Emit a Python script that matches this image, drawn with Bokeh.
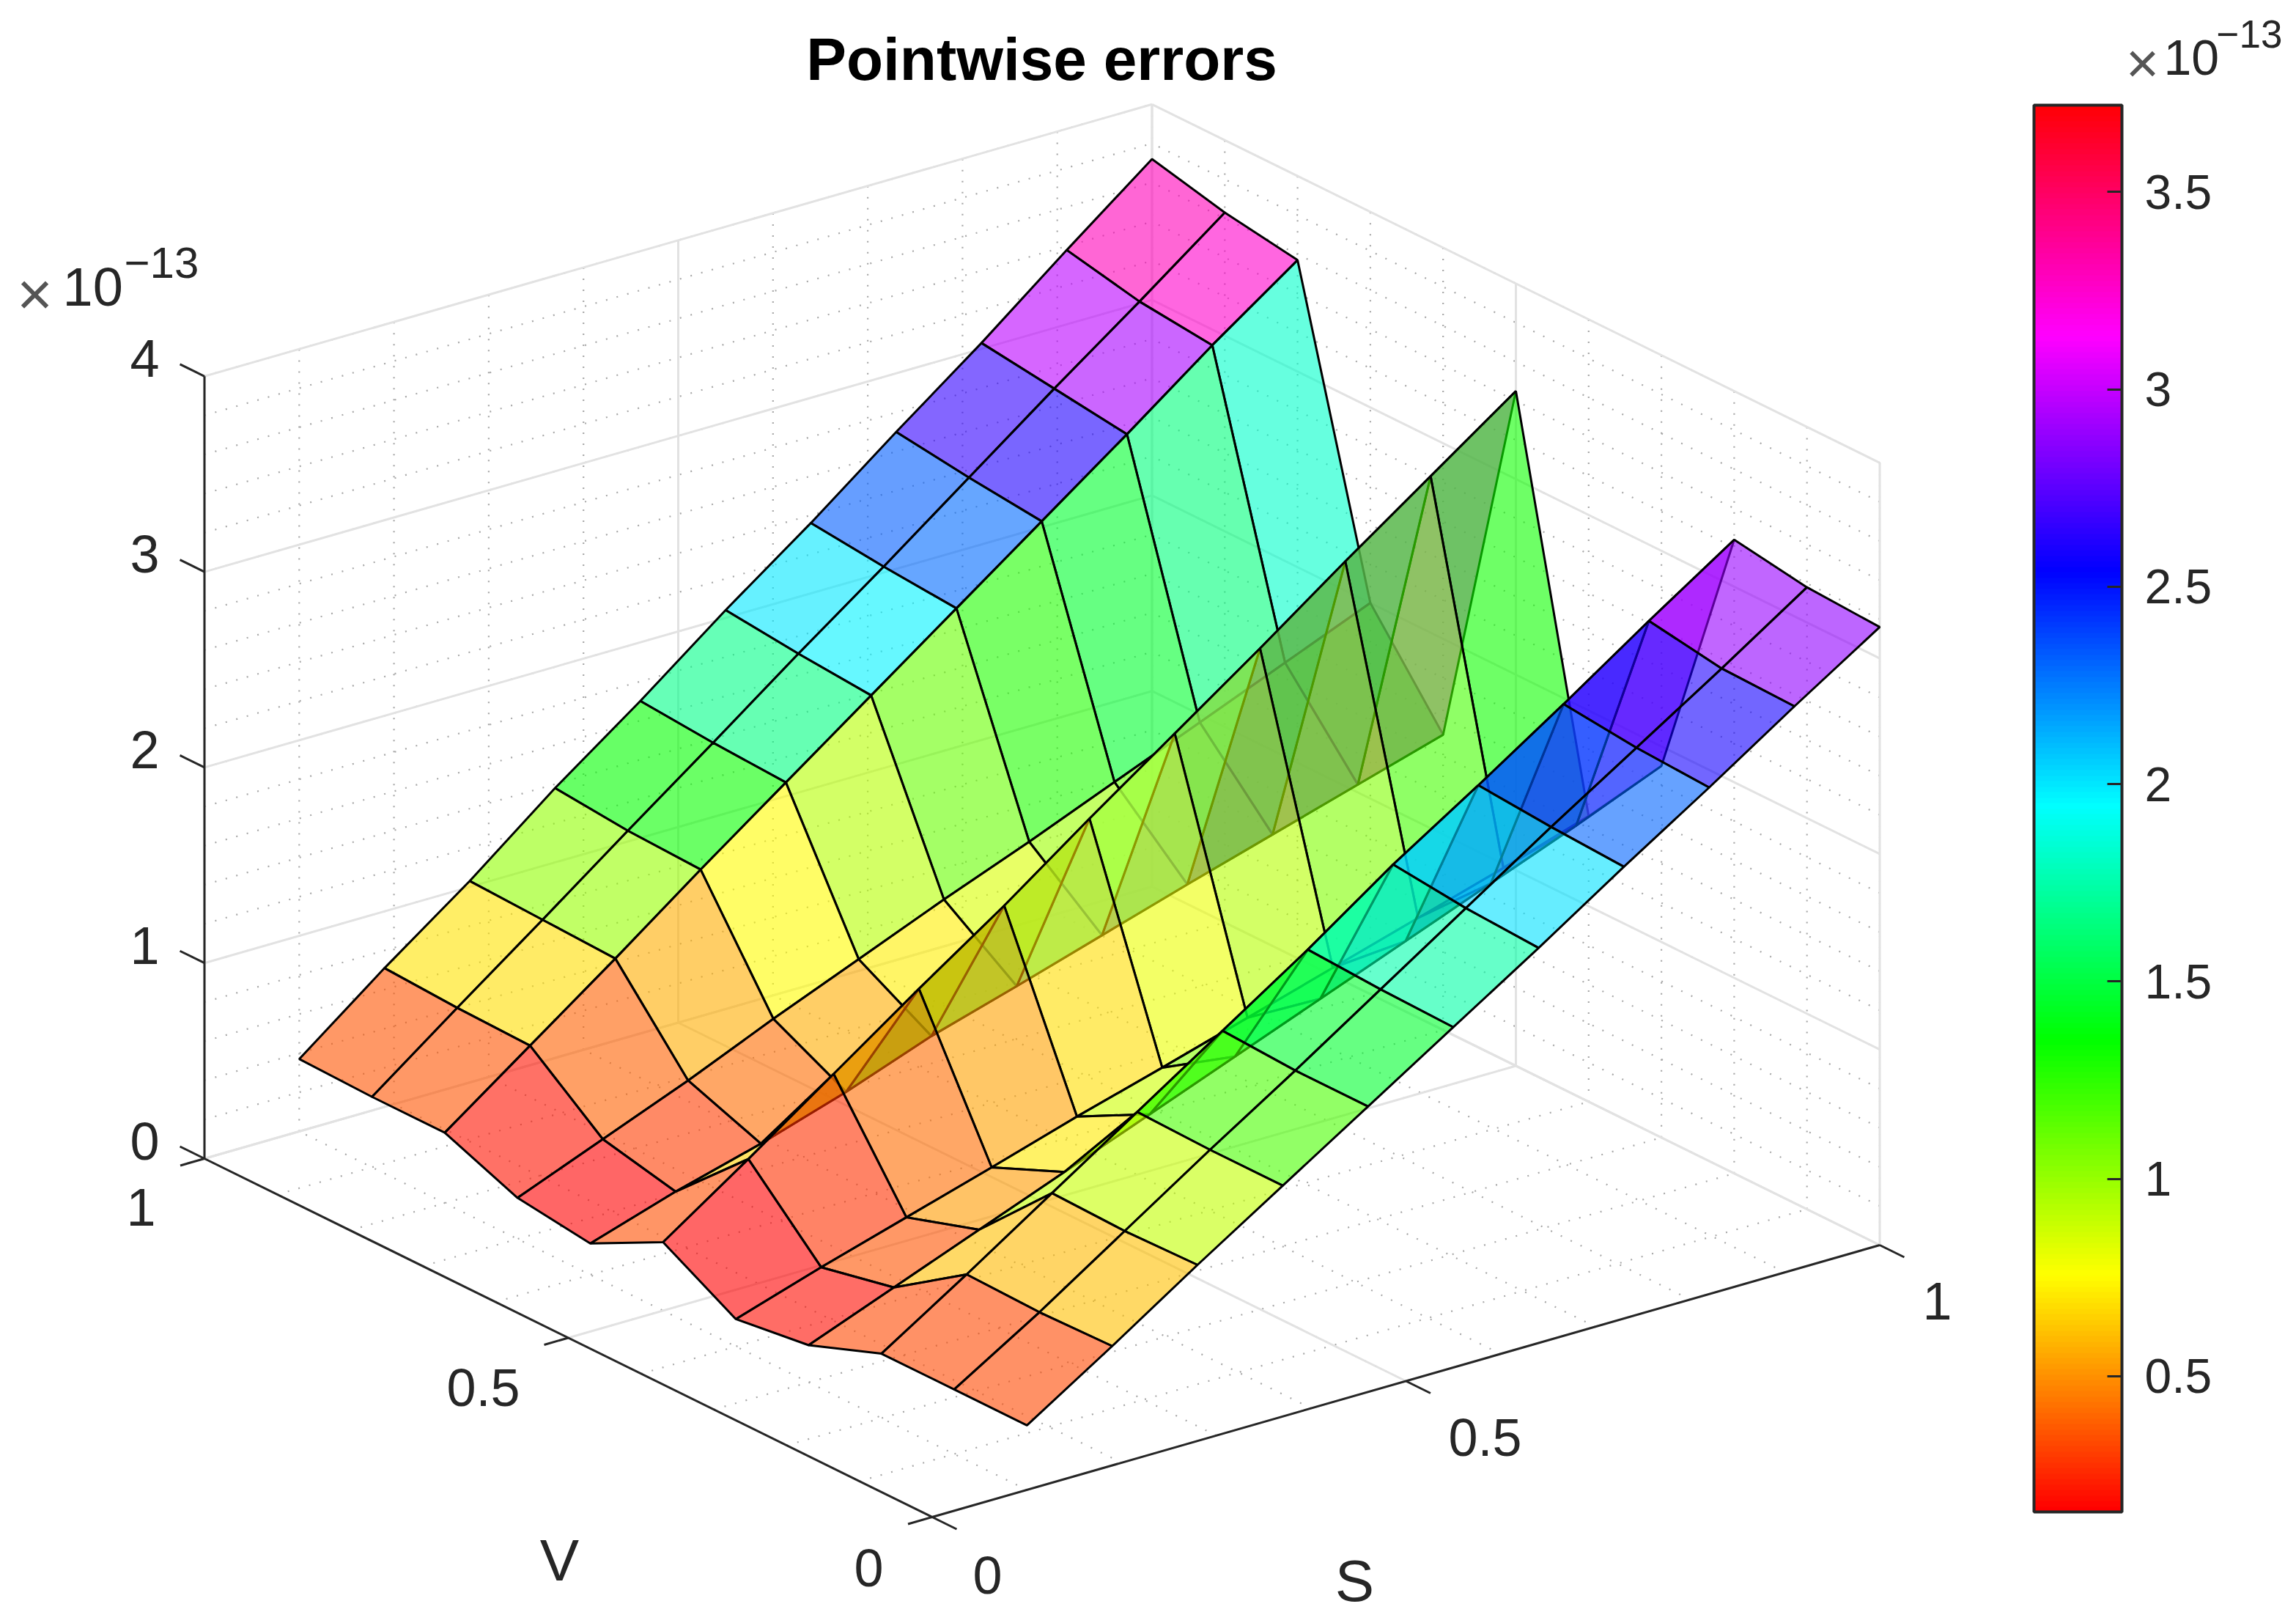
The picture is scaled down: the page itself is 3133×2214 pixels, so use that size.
import colorsys
from bokeh.plotting import figure
from bokeh.embed import file_html
from bokeh.resources import INLINE
from bokeh.core.properties import value
from bokeh.models import Range1d, ColumnDataSource, LinearColorMapper, ColorBar, FixedTicker

# ---- data (values in units of 1e-13) ----
S_values = [0.10, 0.19, 0.28, 0.37, 0.46, 0.55, 0.64, 0.73, 0.82, 0.91, 1.00]
V_values = [0.0, 0.1, 0.2, 0.3, 0.4, 0.5, 0.6, 0.7, 0.8, 0.9, 1.0]
z_v00 = [0.33, 0.61, 0.90, 1.18, 1.46, 1.74, 2.02, 2.31, 2.59, 2.88, 3.16]
z_v01 = [0.33, 0.60, 0.89, 1.18, 1.46, 1.75, 2.04, 2.33, 2.61, 2.89, 3.18]
z_v02 = [0.33, 0.61, 0.90, 1.19, 1.48, 1.77, 2.08, 2.36, 2.65, 2.95, 3.24]
z_v03 = [0.19, 0.36, 0.53, 0.70, 0.87, 1.04, 1.21, 1.38, 1.55, 1.72, 1.90]
z_v04 = [0.14, 0.28, 0.41, 0.54, 0.675, 0.80, 0.93, 1.06, 1.19, 1.32, 1.46]
z_v05 = [0.35, 0.65, 0.96, 1.27, 1.57, 1.89, 2.20, 2.51, 2.83, 3.14, 3.45]
z_v06 = [0.16, 0.30, 0.42, 0.56, 0.72, 0.85, 0.985, 1.12, 1.25, 1.38, 1.51]
z_v07 = [0.21, 0.385, 0.56, 0.75, 0.93, 1.11, 1.28, 1.46, 1.64, 1.82, 2.00]
z_v08 = [0.36, 0.68, 1.00, 1.33, 1.65, 1.97, 2.29, 2.61, 2.93, 3.26, 3.57]
z_v09 = [0.36, 0.69, 1.015, 1.345, 1.67, 2.00, 2.32, 2.65, 2.98, 3.30, 3.63]
z_v10 = [0.37, 0.71, 1.03, 1.38, 1.70, 2.04, 2.36, 2.70, 3.03, 3.38, 3.72]
Z_columns = [z_v00, z_v01, z_v02, z_v03, z_v04, z_v05, z_v06, z_v07, z_v08, z_v09, z_v10]

S_major = [0, 0.5, 1]
V_major = [0, 0.5, 1]
Z_major = [0, 1, 2, 3, 4]
S_labels = ["0", "0.5", "1"]
V_labels = ["0", "0.5", "1"]
Z_labels = ["0", "1", "2", "3", "4"]
minor_sv = [k / 10 for k in range(0, 11)]
minor_z = [k / 5 for k in range(0, 21)]
cbar_ticks = [0.5, 1, 1.5, 2, 2.5, 3, 3.5]
cbar_labels = ["0.5", "1", "1.5", "2", "2.5", "3", "3.5"]
clim = (0.156, 3.72)

# ---- orthographic view of the 3-D box ----
ORIGIN = (1271.5, 2069.0)
S_VEC = (1293.0, -371.0)
V_VEC = (-993.0, -489.0)
Z_UNIT = 266.8


def proj(s, v, z=0.0):
    return (ORIGIN[0] + s * S_VEC[0] + v * V_VEC[0],
            ORIGIN[1] + s * S_VEC[1] + v * V_VEC[1] - z * Z_UNIT)


def seg(a, b):
    pa, pb = proj(*a), proj(*b)
    return [pa[0], pb[0]], [pa[1], pb[1]]


FONT = value("Liberation Sans")
INK = "#262626"

p = figure(width=3117, height=2206, x_range=Range1d(0, 3117), y_range=Range1d(2206, 0),
           output_backend="svg", toolbar_location=None, min_border=0)
p.axis.visible = False
p.grid.visible = False
p.outline_line_color = None

# minor grid (dotted)
mx, my = [], []
for t in minor_sv:
    for a, b in [((t, 1, 0), (t, 1, 4)), ((1, t, 0), (1, t, 4)), ((t, 0, 0), (t, 1, 0)), ((0, t, 0), (1, t, 0))]:
        x, y = seg(a, b)
        mx.append(x)
        my.append(y)
for t in minor_z:
    for a, b in [((0, 1, t), (1, 1, t)), ((1, 0, t), (1, 1, t))]:
        x, y = seg(a, b)
        mx.append(x)
        my.append(y)
p.multi_line(mx, my, line_color="#a8a8a8", line_width=2.2, line_dash="2 13")

# major grid
gx, gy = [], []
for t in S_major:
    for a, b in [((t, 1, 0), (t, 1, 4)), ((t, 0, 0), (t, 1, 0))]:
        x, y = seg(a, b)
        gx.append(x)
        gy.append(y)
for t in V_major:
    for a, b in [((1, t, 0), (1, t, 4)), ((0, t, 0), (1, t, 0))]:
        x, y = seg(a, b)
        gx.append(x)
        gy.append(y)
for t in Z_major:
    for a, b in [((0, 1, t), (1, 1, t)), ((1, 0, t), (1, 1, t))]:
        x, y = seg(a, b)
        gx.append(x)
        gy.append(y)
p.multi_line(gx, gy, line_color="#e2e2e2", line_width=3)

# axis lines and ticks
ax, ay = [], []
for a, b in [((0, 1, 0), (0, 1, 4)), ((0, 0, 0), (0, 1, 0)), ((0, 0, 0), (1, 0, 0))]:
    x, y = seg(a, b)
    ax.append(x)
    ay.append(y)
for t in Z_major:
    x, y = seg((0, 1, t), (0, 1.0337, t))
    ax.append(x)
    ay.append(y)
for t in V_major:
    x, y = seg((0, t, 0), (-0.0255, t, 0))
    ax.append(x)
    ay.append(y)
for t in S_major:
    x, y = seg((t, 0, 0), (t, -0.0337, 0))
    ax.append(x)
    ay.append(y)
p.multi_line(ax, ay, line_color=INK, line_width=3)

# surface, painted from the far corner to the near one
palette = []
for k in range(256):
    r, g, b = colorsys.hsv_to_rgb(k / 256, 1, 1)
    palette.append("#%02x%02x%02x" % (round(r * 255), round(g * 255), round(b * 255)))
mapper = LinearColorMapper(palette=palette, low=clim[0], high=clim[1])

fx, fy, fz = [], [], []
for i in range(len(S_values) - 2, -1, -1):
    for j in range(len(V_values) - 2, -1, -1):
        corners = [(i, j), (i + 1, j), (i + 1, j + 1), (i, j + 1)]
        pts = [proj(S_values[a], V_values[b], Z_columns[b][a]) for a, b in corners]
        fx.append([q[0] for q in pts])
        fy.append([q[1] for q in pts])
        fz.append(Z_columns[j][i])
surface = ColumnDataSource(dict(xs=fx, ys=fy, z=fz))
p.patches("xs", "ys", source=surface, fill_color={"field": "z", "transform": mapper},
          fill_alpha=0.6, line_color="black", line_width=3)

# texts


def put(x, y, s, size, align="center", style="normal", color=INK):
    p.text([x], [y], text=[s], text_font=FONT, text_font_size=size, text_align=align,
           text_baseline="middle", text_font_style=style, text_color=color)


TICK = "72px"
for t, s in zip(Z_major, Z_labels):
    put(197, proj(0, 1, t)[1] - 24, s, TICK)
put(1185, 2138, V_labels[0], TICK)
put(659, 1892, V_labels[1], TICK)
put(192, 1646, V_labels[2], TICK)
put(1347, 2148, S_labels[0], TICK)
put(2026, 1960, S_labels[1], TICK)
put(2643, 1774, S_labels[2], TICK)
put(763, 2128, "V", "80px")
put(1848, 2156, "S", "80px")
put(1421, 80, "Pointwise errors", "82px", style="bold", color="black")

put(47, 400, "\u00d7", "84px", color="#555555")
put(85, 391, "10", "74px", align="left")
put(169, 358, "\u221213", "60px", align="left")

put(2923, 85, "\u00d7", "78px", color="#555555")
put(2952, 78, "10", "68px", align="left")
put(3024, 46, "\u221213", "53px", align="left")

# colour bar
bar = ColorBar(color_mapper=mapper, ticker=FixedTicker(ticks=cbar_ticks),
               major_label_overrides=dict(zip(cbar_ticks, cbar_labels)),
               location=(2775, 2206 - 2062), width=120, height=1919, padding=0, margin=0,
               bar_line_color=INK, bar_line_width=4,
               major_tick_line_color=INK, major_tick_line_width=3, major_tick_in=20, major_tick_out=0,
               minor_tick_line_color=None, label_standoff=31,
               major_label_text_font="Liberation Sans", major_label_text_font_size="66px",
               major_label_text_color=INK, background_fill_alpha=0, border_line_color=None)
p.add_layout(bar)

open("out.html", "w").write(file_html(p, INLINE))
